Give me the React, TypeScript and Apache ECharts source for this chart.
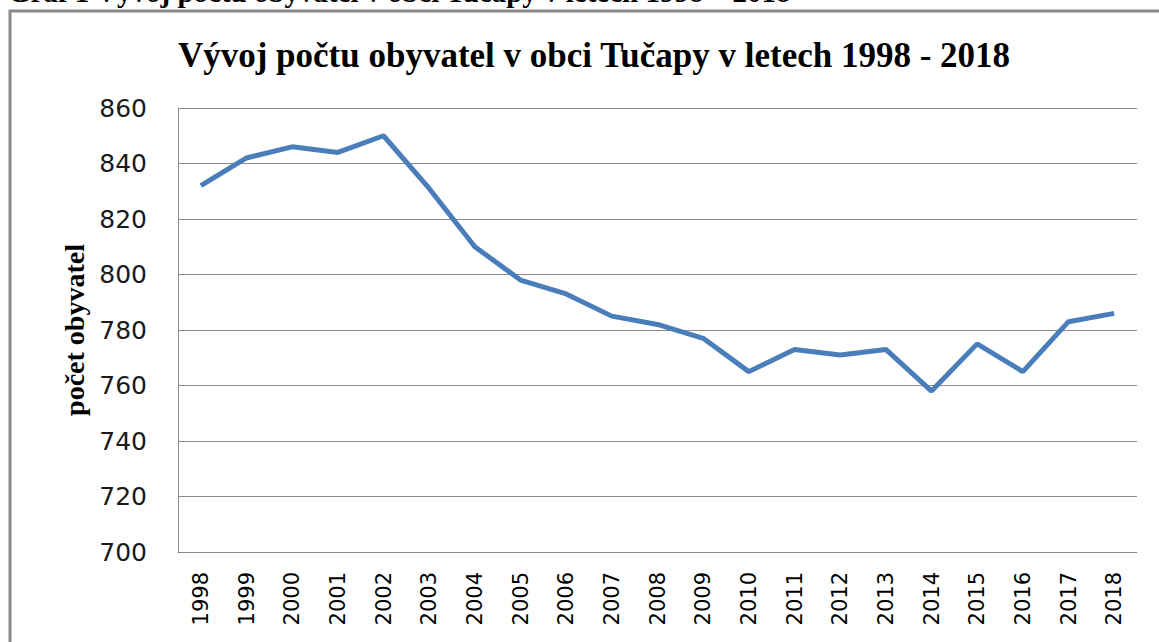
import React, { useEffect, useRef } from "react";
import * as echarts from "echarts";

const years = ["1998","1999","2000","2001","2002","2003","2004","2005","2006","2007","2008","2009","2010","2011","2012","2013","2014","2015","2016","2017","2018"];
const population = [832, 842, 846, 844, 850, 831, 810, 798, 793, 785, 782, 777, 765, 773, 771, 773, 758, 775, 765, 783, 786];

const titleText = "Vývoj počtu obyvatel v obci Tučapy v letech 1998 - 2018";
const captionText = "Graf 1 Vývoj počtu obyvatel v obci Tučapy v letech 1998 – 2018";
const yAxisName = "počet obyvatel";

export default function App() {
  const ref = useRef<HTMLDivElement>(null);
  useEffect(() => {
    const chart = echarts.init(ref.current!, null, { renderer: "svg" });
    chart.setOption({
      animation: false,
      backgroundColor: "#ffffff",
      graphic: [
        {
          type: "rect",
          shape: { x: 10, y: 11, width: 1200, height: 700 },
          style: { fill: "none", stroke: "#8a8a8a", lineWidth: 3 },
          z: -1,
        },
        {
          type: "text",
          x: 8,
          y: 6,
          style: {
            text: captionText,
            font: "bold 29px 'Liberation Serif', 'Times New Roman', serif",
            fill: "#000",
            verticalAlign: "bottom",
          },
        },
      ],
      title: {
        text: titleText,
        left: 589,
        textAlign: "center",
        top: 33,
        textStyle: {
          fontFamily: "'Liberation Serif', 'Times New Roman', serif",
          fontWeight: "bold",
          fontSize: 35,
          color: "#000",
        },
      },
      grid: { left: 178, right: 22, top: 108, bottom: 90, containLabel: false },
      xAxis: {
        type: "category",
        data: years,
        boundaryGap: true,
        axisLine: { lineStyle: { color: "#8c8c8c", width: 1 } },
        axisTick: { show: false },
        axisLabel: {
          rotate: 90,
          margin: 20,
          fontFamily: "'DejaVu Sans', sans-serif",
          fontSize: 21,
          color: "#000",
          interval: 0,
        },
      },
      yAxis: {
        type: "value",
        min: 700,
        max: 860,
        interval: 20,
        name: yAxisName,
        nameLocation: "middle",
        nameGap: 90,
        nameTextStyle: {
          fontFamily: "'Liberation Serif', 'Times New Roman', serif",
          fontWeight: "bold",
          fontSize: 28,
          color: "#000",
        },
        axisLine: { show: true, lineStyle: { color: "#8c8c8c", width: 1 } },
        axisTick: { show: false },
        axisLabel: {
          margin: 31,
          fontFamily: "'DejaVu Sans', sans-serif",
          fontSize: 25,
          color: "#1a1a1a",
        },
        splitLine: { lineStyle: { color: "#8c8c8c", width: 1 } },
      },
      series: [
        {
          type: "line",
          data: population,
          symbol: "none",
          lineStyle: { color: "#4a7ebb", width: 5 },
          itemStyle: { color: "#4a7ebb" },
        },
      ],
    });
    return () => chart.dispose();
  }, []);
  return (
    <div
      ref={ref}
      style={{ position: "fixed", left: 0, top: 0, width: 1159, height: 642 }}
    />
  );
}
